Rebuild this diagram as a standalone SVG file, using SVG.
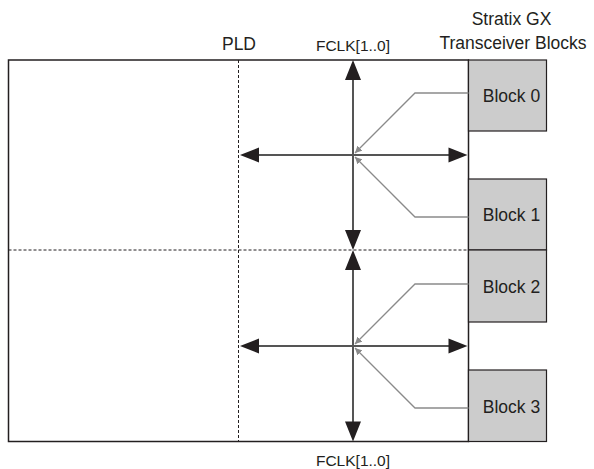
<svg xmlns="http://www.w3.org/2000/svg" width="594" height="469" viewBox="0 0 594 469">
<defs>
<style>
.t{font-family:"Liberation Sans",Arial,sans-serif;fill:#231f20;}
.big{font-size:17.5px;}
.small{font-size:15.5px;}
.frame{fill:none;stroke:#231f20;stroke-width:1.5;}
.dash{fill:none;stroke:#231f20;stroke-width:1;stroke-dasharray:3,2;}
.blk{fill:#cccccc;stroke:#231f20;stroke-width:1.2;}
.shaft{fill:none;stroke:#555555;stroke-width:2;}
.head{fill:#231f20;}
.conn{fill:none;stroke:#8a8a8a;stroke-width:1.3;}
</style>
<marker id="ga" viewBox="0 0 10 10" refX="10" refY="5" markerWidth="7" markerHeight="7" markerUnits="userSpaceOnUse" orient="auto">
<path d="M0,0 L10,5 L0,10 Z" fill="#8a8a8a"/>
</marker>
</defs>
<rect width="594" height="469" fill="#ffffff"/>
<g id="pld">
<rect class="frame" x="8.5" y="60" width="460" height="381.5"/>
<line class="dash" x1="238.5" y1="60" x2="238.5" y2="441.5"/>
<line class="dash" x1="8.5" y1="250" x2="468.5" y2="250"/>
<text class="t big" x="239" y="50" text-anchor="middle">PLD</text>
</g>
<g id="header">
<text class="t big" x="511.5" y="25" text-anchor="middle">Stratix GX</text>
<text class="t big" x="513" y="49" text-anchor="middle">Transceiver Blocks</text>
</g>
<g id="block0">
<rect class="blk" x="468.5" y="60" width="78" height="71"/>
<text class="t big" x="511.5" y="102" text-anchor="middle">Block 0</text>
</g>
<g id="block1">
<rect class="blk" x="468.5" y="179" width="78" height="71"/>
<text class="t big" x="511.5" y="221" text-anchor="middle">Block 1</text>
</g>
<g id="block2">
<rect class="blk" x="468.5" y="250" width="78" height="72"/>
<text class="t big" x="511.5" y="292.5" text-anchor="middle">Block 2</text>
</g>
<g id="block3">
<rect class="blk" x="468.5" y="370" width="78" height="71.5"/>
<text class="t big" x="511.5" y="412.5" text-anchor="middle">Block 3</text>
</g>
<g id="fclk-labels">
<text class="t small" x="353" y="50.5" text-anchor="middle">FCLK[1..0]</text>
<text class="t small" x="353" y="465.5" text-anchor="middle">FCLK[1..0]</text>
</g>
<g id="connectors">
<line class="shaft" x1="353" y1="75" x2="353" y2="235"/>
<line class="shaft" x1="353" y1="265" x2="353" y2="426"/>
<line class="shaft" x1="255" y1="155" x2="452" y2="155"/>
<line class="shaft" x1="255" y1="346" x2="452" y2="346"/>
<polygon class="head" points="353,60 345,80 361,80"/>
<polygon class="head" points="353,250 345,230 361,230"/>
<polygon class="head" points="353,250 345,270 361,270"/>
<polygon class="head" points="353,441.5 345,421.5 361,421.5"/>
<polygon class="head" points="240,155 259,147.5 259,162.5"/>
<polygon class="head" points="467.5,155 448.5,147.5 448.5,162.5"/>
<polygon class="head" points="240,346 259,338.5 259,353.5"/>
<polygon class="head" points="467.5,346 448.5,338.5 448.5,353.5"/>
<path class="conn" d="M468.5,93 H415 L355,153" marker-end="url(#ga)"/>
<path class="conn" d="M468.5,217 H415 L355,157" marker-end="url(#ga)"/>
<path class="conn" d="M468.5,284 H415 L355,344" marker-end="url(#ga)"/>
<path class="conn" d="M468.5,408 H415 L355,348" marker-end="url(#ga)"/>
</g>
</svg>
